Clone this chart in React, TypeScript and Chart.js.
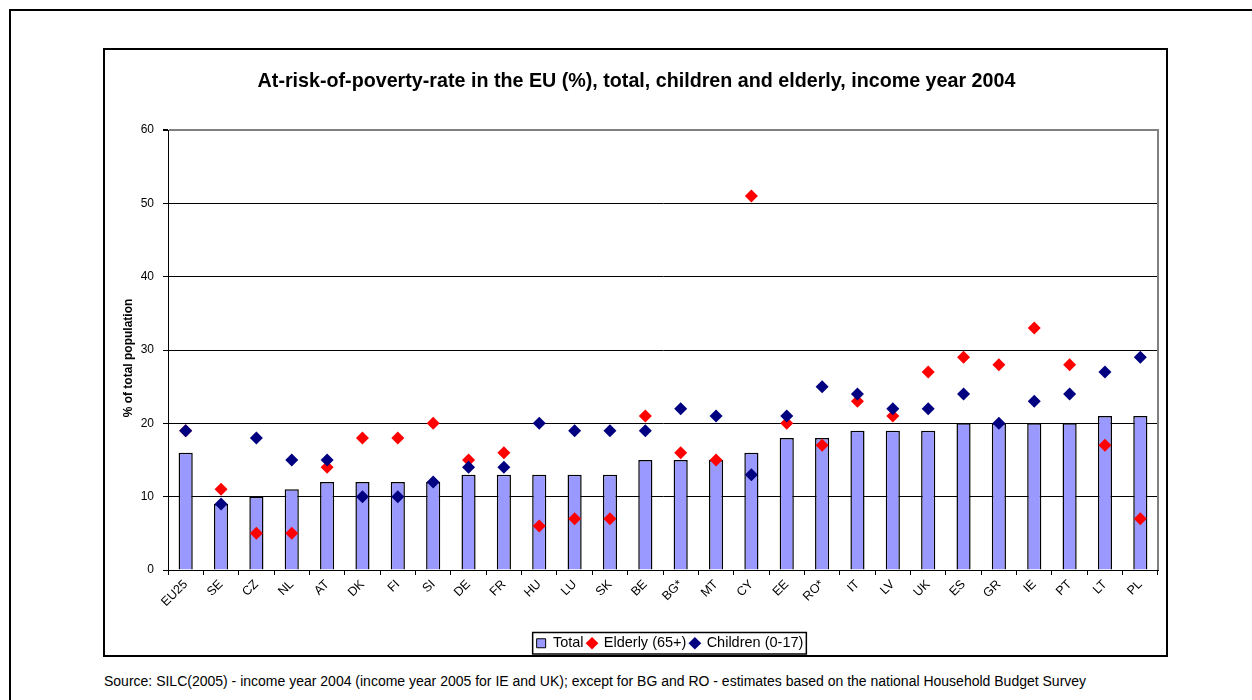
import React, { useEffect, useRef } from "react";
import { Chart, registerables } from "chart.js";

Chart.register(...registerables);

const categories = ["EU25", "SE", "CZ", "NL", "AT", "DK", "FI", "SI", "DE", "FR", "HU", "LU", "SK", "BE", "BG*", "MT", "CY", "EE", "RO*", "IT", "LV", "UK", "ES", "GR", "IE", "PT", "LT", "PL"];
const totalValues = [16, 9, 10, 11, 12, 12, 12, 12, 13, 13, 13, 13, 13, 15, 15, 15, 16, 18, 18, 19, 19, 19, 20, 20, 20, 20, 21, 21];
const elderlyValues = [19, 11, 5, 5, 14, 18, 18, 20, 15, 16, 6, 7, 7, 21, 16, 15, 51, 20, 17, 23, 21, 27, 29, 28, 33, 28, 17, 7];
const childrenValues = [19, 9, 18, 15, 15, 10, 10, 12, 14, 14, 20, 19, 19, 19, 22, 21, 13, 21, 25, 24, 22, 22, 24, 20, 23, 24, 27, 29];
const seriesLabels = ["Total", "Elderly (65+)", "Children (0-17)"];
const yMin = 0;
const yMax = 60;
const yStep = 10;

const titleText = "At-risk-of-poverty-rate in the EU (%), total, children and elderly, income year 2004";
const yTitleText = "% of total population";
const sourceText = "Source: SILC(2005) - income year 2004 (income year 2005 for IE and UK); except for BG and RO - estimates based on the national Household Budget Survey";

const FONT = "'Liberation Sans', Arial, Helvetica, sans-serif";

const framePlugin = {
  id: "framePlugin",
  afterLayout(chart: any) {
    const lg = chart.legend;
    if (lg) {
      lg.left += 7;
      lg.right += 7;
    }
    const tb = chart.titleBlock;
    if (tb) {
      tb.left += 5;
      tb.right += 5;
    }
  },
  beforeDatasetsDraw(chart: any) {
    const { ctx, chartArea } = chart;
    ctx.save();
    ctx.strokeStyle = "#808080";
    ctx.lineWidth = 2;
    ctx.beginPath();
    ctx.moveTo(chartArea.right, chartArea.top - 1);
    ctx.lineTo(chartArea.right, chartArea.bottom);
    ctx.stroke();
    ctx.restore();
  },
  afterDraw(chart: any) {
    const ctx = chart.ctx;
    // y-axis title
    ctx.save();
    ctx.translate(24, (chart.chartArea.top + chart.chartArea.bottom) / 2 + 8);
    ctx.rotate(-Math.PI / 2);
    ctx.fillStyle = "#000";
    ctx.font = "bold 12px " + FONT;
    ctx.textAlign = "center";
    ctx.textBaseline = "middle";
    ctx.fillText(yTitleText, 0, 0);
    ctx.restore();

    const lg = chart.legend;
    if (!lg || !lg.legendHitBoxes || !lg.legendHitBoxes.length) return;
    const hb = lg.legendHitBoxes;
    let l = Infinity, r = -Infinity, t = Infinity, b = -Infinity;
    hb.forEach((h: any) => {
      l = Math.min(l, h.left);
      r = Math.max(r, h.left + h.width);
      t = Math.min(t, h.top);
      b = Math.max(b, h.top + h.height);
    });
    ctx.save();
    ctx.strokeStyle = "#000";
    ctx.lineWidth = 1.5;
    ctx.strokeRect(l - 4, t - 3.5, r - l + 7, b - t + 7);
    ctx.restore();
  },
};

export default function App() {
  const ref = useRef<HTMLCanvasElement | null>(null);

  useEffect(() => {
    if (!ref.current) return;
    const chart = new Chart(ref.current, {
      type: "bar",
      data: {
        labels: categories,
        datasets: [
          {
            type: "bar",
            label: seriesLabels[0],
            data: totalValues,
            backgroundColor: "#9999FF",
            borderColor: "#000000",
            borderWidth: 1.5,
            barPercentage: 0.4,
            categoryPercentage: 1,
            order: 3,
          },
          {
            type: "line",
            label: seriesLabels[1],
            data: elderlyValues,
            showLine: false,
            pointStyle: "rectRot",
            pointRadius: 6.5,
            pointHoverRadius: 6.5,
            pointBackgroundColor: "#FF0000",
            pointBorderColor: "#FF0000",
            pointBorderWidth: 0,
            backgroundColor: "#FF0000",
            borderColor: "#FF0000",
            order: 2,
          },
          {
            type: "line",
            label: seriesLabels[2],
            data: childrenValues,
            showLine: false,
            pointStyle: "rectRot",
            pointRadius: 6.5,
            pointHoverRadius: 6.5,
            pointBackgroundColor: "#000080",
            pointBorderColor: "#000080",
            pointBorderWidth: 0,
            backgroundColor: "#000080",
            borderColor: "#000080",
            order: 1,
          },
        ],
      },
      options: {
        responsive: false,
        animation: false,
        layout: { padding: { left: 0, right: 8, top: 0, bottom: 2 } },
        plugins: {
          title: {
            display: true,
            text: titleText,
            color: "#000",
            font: { family: FONT, size: 19.7, weight: "bold" },
            padding: { top: 20, bottom: 36.4 },
          },
          legend: {
            display: true,
            position: "bottom",
            fullSize: false,
            maxHeight: 21,
            labels: {
              usePointStyle: true,
              boxWidth: 9,
              boxHeight: 9,
              padding: 4,
              color: "#000",
              font: { family: FONT, size: 14.5 },
              sort: (a: any, b: any) => a.datasetIndex - b.datasetIndex,
              generateLabels: (chart: any) => {
                const items = (Chart as any).defaults.plugins.legend.labels.generateLabels(chart);
                items.forEach((it: any) => {
                  if (it.datasetIndex === 0) {
                    it.pointStyle = "rect";
                    it.fillStyle = "#9999FF";
                    it.strokeStyle = "#000";
                    it.lineWidth = 1;
                  } else {
                    it.pointStyle = "rectRot";
                    it.lineWidth = 0;
                  }
                });
                return items;
              },
            },
          },
          tooltip: { enabled: false },
        },
        scales: {
          x: {
            afterFit: (scale: any) => {
              scale.height = 62;
            },
            grid: {
              display: true,
              drawOnChartArea: false,
              drawTicks: true,
              tickLength: 5,
              color: "#000",
              offset: true,
            },
            border: { display: true, color: "#000", width: 1 },
            ticks: {
              autoSkip: false,
              minRotation: 45,
              maxRotation: 45,
              padding: 2,
              color: "#000",
              font: { family: FONT, size: 12.5 },
            },
          },
          y: {
            min: yMin,
            max: yMax,
            afterFit: (scale: any) => {
              scale.width = 63;
            },
            ticks: {
              stepSize: yStep,
              padding: 9,
              color: "#000",
              font: { family: FONT, size: 12 },
            },
            grid: {
              drawTicks: true,
              tickLength: 5,
              color: (c: any) => (c.tick && c.tick.value === yMax ? "#808080" : "#000"),
              lineWidth: (c: any) => (c.tick && c.tick.value === yMax ? 2 : 1),
              tickColor: "#000",
            },
            border: { display: true, color: "#000", width: 1 },
            title: { display: false },
          },
        },
      },
      plugins: [framePlugin],
    } as any);
    return () => chart.destroy();
  }, []);

  return (
    <div style={{ position: "absolute", left: 0, top: 0, width: 1252, height: 700, overflow: "hidden", background: "#fff", fontFamily: FONT }}>
      <div style={{ position: "absolute", left: 9, top: 9, width: 1300, height: 800, borderLeft: "2px solid #000", borderTop: "2px solid #000" }} />
      <div style={{ position: "absolute", left: 103, top: 48, width: 1061, height: 605, border: "2px solid #000", background: "#fff" }}>
        <canvas ref={ref} width={1061} height={605} style={{ display: "block" }} />
      </div>
      <div style={{ position: "absolute", left: 104, top: 673, fontSize: 14, lineHeight: "16px", color: "#000", whiteSpace: "nowrap" }}>{sourceText}</div>
    </div>
  );
}
